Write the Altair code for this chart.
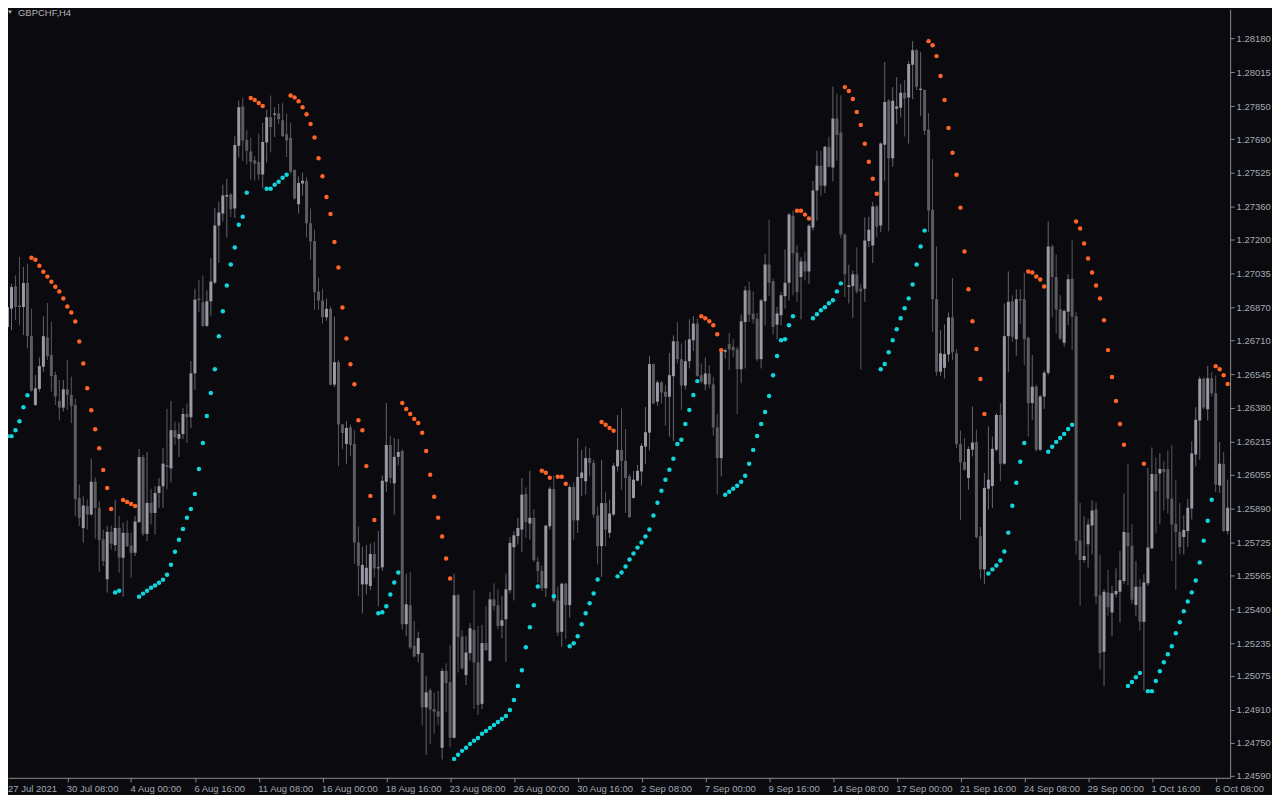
import altair as alt
import pandas as pd

SYMBOL = "GBPCHF,H4"
FIRST_DATE_LABEL = "27 Jul 2021"
TICK_BARS = [16, 32, 48, 64, 80, 96, 112, 128, 144, 160, 176, 192, 208, 224, 240, 256, 272, 288, 304]
TICK_LABELS = ["30 Jul 08:00", "4 Aug 00:00", "6 Aug 16:00", "11 Aug 08:00", "16 Aug 00:00",
               "18 Aug 16:00", "23 Aug 08:00", "26 Aug 00:00", "30 Aug 16:00", "2 Sep 08:00",
               "7 Sep 00:00", "9 Sep 16:00", "14 Sep 08:00", "17 Sep 00:00", "21 Sep 16:00",
               "24 Sep 08:00", "29 Sep 00:00", "1 Oct 16:00", "6 Oct 08:00"]
PRICE_TICKS = [1.24590, 1.24750, 1.24910, 1.25075, 1.25235, 1.25400, 1.25565, 1.25725,
               1.25890, 1.26055, 1.26215, 1.26380, 1.26545, 1.26710, 1.26870, 1.27035,
               1.27200, 1.27360, 1.27525, 1.27690, 1.27850, 1.28015, 1.28180]

# prices in points (1 point = 0.00001)
OPEN = [
    126347, 126775, 126864, 126973, 126880, 126872, 126989, 126730, 126395, 126473,
    126581, 126724, 126638, 126541, 126415, 126382, 126471, 126444, 126395, 125942,
    125795, 125902, 125861, 126021, 125894, 125740, 125546, 125777, 125712, 125796,
    125651, 125772, 125710, 125675, 125824, 126141, 125767, 125918, 125869, 125966,
    125999, 126102, 126086, 126272, 126230, 126253, 126351, 126335, 126549, 126913,
    126895, 126780, 126900, 126991, 127269, 127327, 127410, 127421, 127352, 127658,
    127849, 127686, 127630, 127587, 127578, 127517, 127673, 127796, 127809, 127815,
    127782, 127713, 127695, 127539, 127372, 127474, 127487, 127280, 127194, 126947,
    126904, 126822, 126863, 126494, 126603, 126300, 126205, 126286, 126205, 125725,
    125521, 125521, 125513, 125669, 125599, 125604, 126021, 126200, 126013, 126142,
    126171, 125327, 125419, 125222, 125181, 125186, 124922, 125006, 124914, 124903,
    124725, 125099, 125044, 124774, 125468, 125267, 125079, 125186, 125299, 125141,
    124939, 125235, 125149, 125448, 125419, 125319, 125351, 125492, 125702, 125756,
    125788, 125961, 125817, 125845, 125631, 125586, 125502, 125804, 125985, 125443,
    125290, 125524, 125420, 125995, 125833, 126039, 126023, 126136, 126112, 125856,
    125707, 125917, 125772, 125861, 126096, 126176, 126123, 126047, 125942, 126026,
    126071, 126192, 126260, 126594, 126411, 126505, 126459, 126435, 126535, 126705,
    126618, 126489, 126608, 126710, 126791, 126540, 126495, 126548, 126495, 126286,
    126136, 126654, 126691, 126678, 126666, 126569, 126799, 126953, 126840, 126815,
    126618, 126900, 127079, 126997, 126786, 126832, 126925, 126990, 127317, 127136,
    127018, 127094, 127045, 127259, 127439, 127560, 127463, 127652, 127552, 127790,
    127722, 127225, 126969, 126974, 127031, 126961, 126961, 127193, 127172, 127361,
    127269, 127662, 127876, 127596, 127838, 127843, 127916, 127892, 128052, 128123,
    127929, 127929, 127735, 127346, 126910, 126557, 126576, 126641, 126821, 126646,
    126204, 126117, 126039, 126177, 126214, 125756, 125594, 125987, 126000, 126177,
    126346, 126109, 126730, 126900, 126715, 126910, 126910, 126722, 126404, 126484,
    126177, 126436, 126552, 127167, 127018, 126861, 126698, 126849, 127010, 126827,
    125735, 125640, 125716, 125808, 125886, 125468, 125193, 125481, 125384, 125473,
    125485, 125538, 125773, 125708, 125420, 125509, 125339, 125527, 125697, 126059,
    126061, 126083, 126083, 125938, 125816, 125776, 125752, 125781, 125891, 126153,
    126319, 126522, 126374, 126525, 126452, 126002, 126109, 125781,
]
HIGH = [
    126953, 126929, 126986, 127026, 127115, 127067, 127083, 126864, 126541, 126626,
    126827, 126892, 126800, 126557, 126516, 126516, 126614, 126533, 126427, 126007,
    125950, 125934, 126133, 126042, 125926, 125788, 125805, 125808, 125934, 125853,
    125821, 125832, 125772, 125853, 126180, 126152, 126165, 125987, 125999, 126039,
    126185, 126376, 126415, 126314, 126309, 126379, 126403, 126609, 126961, 127005,
    127026, 126953, 127111, 127355, 127385, 127468, 127496, 127426, 127703, 127878,
    127890, 127733, 127696, 127608, 127716, 127769, 127832, 127902, 127845, 127862,
    127865, 127812, 127769, 127542, 127509, 127526, 127504, 127352, 127249, 127015,
    126961, 126913, 126875, 126825, 126615, 126303, 126316, 126300, 126272, 125803,
    125703, 125712, 125720, 125728, 125781, 126051, 126404, 126245, 126234, 126229,
    126179, 125573, 125582, 125343, 125291, 125190, 125076, 125015, 124995, 125003,
    125112, 125136, 125225, 125573, 125476, 125299, 125270, 125332, 125492, 125319,
    125324, 125416, 125485, 125526, 125497, 125464, 125574, 125751, 125780, 125845,
    126039, 125993, 126074, 125888, 125655, 125613, 125812, 125998, 126050, 125510,
    125530, 125530, 126006, 126018, 126233, 126176, 126193, 126184, 126128, 125901,
    126128, 125969, 125934, 126112, 126346, 126379, 126278, 126058, 126074, 126103,
    126209, 126385, 126633, 126597, 126516, 126511, 126492, 126649, 126734, 126799,
    126694, 126710, 126812, 126828, 126815, 126597, 126626, 126589, 126532, 126351,
    126662, 126670, 126746, 126715, 126678, 126836, 126974, 126997, 126948, 126844,
    126912, 127131, 127298, 127010, 126872, 126945, 127152, 127330, 127341, 127175,
    127115, 127142, 127276, 127487, 127633, 127633, 127657, 127701, 127945, 127911,
    127903, 127230, 127078, 127050, 127162, 126986, 127309, 127312, 127385, 127369,
    127673, 128065, 127884, 127943, 127992, 127960, 127977, 128070, 128167, 128130,
    128113, 127932, 127816, 127592, 127167, 126759, 126787, 126845, 127013, 126667,
    126270, 126233, 126193, 126387, 126274, 125800, 126063, 126290, 126241, 126355,
    126403, 126889, 127045, 126929, 126958, 126958, 127039, 126727, 126638, 126493,
    126444, 126562, 127289, 127177, 127128, 126929, 126860, 127031, 127196, 126849,
    125918, 125853, 125840, 125931, 125921, 125667, 125497, 125591, 125514, 125599,
    125684, 125963, 126109, 125813, 125635, 125546, 125570, 126088, 126188, 126137,
    126161, 126120, 126174, 126201, 126031, 125918, 125857, 125938, 126218, 126384,
    126533, 126530, 126585, 126554, 126538, 126214, 126166, 126031,
]
LOW = [
    126338, 126751, 126759, 126808, 126783, 126735, 126670, 126460, 126390, 126460,
    126557, 126614, 126460, 126395, 126319, 126363, 126371, 126306, 125853, 125805,
    125724, 125788, 125856, 125743, 125581, 125610, 125481, 125691, 125683, 125578,
    125462, 125703, 125554, 125659, 125821, 125756, 125732, 125813, 125764, 125894,
    125894, 125983, 126018, 126201, 126141, 126229, 126209, 126282, 126468, 126848,
    126775, 126775, 126830, 126984, 127087, 127289, 127211, 127310, 127305, 127600,
    127584, 127567, 127492, 127488, 127492, 127451, 127575, 127625, 127700, 127762,
    127700, 127603, 127521, 127395, 127327, 127415, 127211, 127103, 126858, 126858,
    126792, 126805, 126490, 126482, 126098, 126179, 126109, 126146, 125621, 125463,
    125380, 125472, 125493, 125554, 125414, 125587, 125972, 126013, 125861, 126101,
    125300, 125269, 125206, 125165, 125141, 124833, 124691, 124744, 124793, 124837,
    124668, 124898, 124728, 124769, 125092, 125105, 125031, 125149, 124914, 124885,
    124914, 125196, 125145, 125395, 125303, 125259, 125144, 125477, 125443, 125715,
    125678, 125748, 125739, 125629, 125529, 125489, 125460, 125788, 125432, 125270,
    125218, 125254, 125359, 125739, 125772, 125950, 125958, 126047, 125845, 125618,
    125557, 125707, 125748, 125853, 126071, 125982, 125869, 125845, 125938, 126023,
    126003, 126107, 126173, 126398, 126391, 126403, 126294, 126241, 126220, 126597,
    126370, 126470, 126573, 126657, 126532, 126500, 126467, 126476, 126246, 125958,
    126047, 126621, 126565, 126629, 126351, 126500, 126573, 126799, 126791, 126608,
    126573, 126783, 126925, 126738, 126715, 126783, 126864, 126904, 126929, 126896,
    126812, 127001, 126985, 127244, 127293, 127414, 127427, 127552, 127484, 127584,
    127207, 126921, 126889, 126819, 126937, 126568, 126897, 127164, 127086, 127212,
    127236, 127487, 127240, 127555, 127762, 127795, 127702, 127668, 127884, 127929,
    127803, 127710, 127236, 126751, 126537, 126537, 126524, 126605, 126613, 126185,
    125834, 126075, 125982, 126144, 125745, 125546, 125522, 125885, 125893, 126169,
    126023, 126104, 126554, 126703, 126635, 126791, 126589, 126241, 126323, 126169,
    126169, 126376, 126541, 126821, 126743, 126711, 126679, 126784, 126662, 125667,
    125417, 125627, 125603, 125667, 125425, 125106, 125025, 125368, 125268, 125457,
    125336, 125522, 125517, 125425, 125365, 125295, 125004, 125514, 125692, 125769,
    125813, 125881, 125866, 125635, 125494, 125667, 125667, 125703, 125837, 126096,
    126129, 126374, 126319, 126436, 125970, 125967, 125776, 125765,
]
CLOSE = [
    126779, 126872, 126969, 126872, 126872, 126989, 126730, 126465, 126476, 126584,
    126730, 126633, 126536, 126436, 126382, 126471, 126444, 126390, 125937, 125845,
    125905, 125861, 126021, 125894, 125737, 125635, 125777, 125719, 125796, 125651,
    125772, 125707, 125675, 125827, 126141, 125767, 125918, 125869, 125966, 125999,
    126109, 126093, 126272, 126237, 126253, 126351, 126335, 126549, 126908, 126905,
    126780, 126900, 126996, 127269, 127332, 127415, 127418, 127348, 127661, 127845,
    127683, 127633, 127580, 127570, 127517, 127676, 127796, 127749, 127815, 127787,
    127705, 127683, 127531, 127401, 127476, 127487, 127280, 127191, 126944, 126904,
    126822, 126863, 126494, 126603, 126300, 126258, 126283, 126200, 125725, 125612,
    125616, 125602, 125669, 125599, 125604, 126026, 126200, 126040, 126142, 126166,
    125327, 125424, 125214, 125170, 125259, 124922, 124995, 124911, 124901, 124877,
    125099, 125040, 124774, 125468, 125265, 125112, 125189, 125307, 125141, 124934,
    125235, 125201, 125448, 125416, 125319, 125346, 125497, 125723, 125760, 125796,
    125958, 125824, 125845, 125639, 125586, 125502, 125807, 125987, 125440, 125286,
    125524, 125420, 125995, 125833, 126044, 126066, 126136, 126112, 125861, 125707,
    125917, 125788, 125866, 126099, 126176, 126123, 126039, 125848, 126031, 126074,
    126196, 126262, 126594, 126403, 126505, 126455, 126435, 126540, 126705, 126618,
    126489, 126608, 126715, 126791, 126537, 126508, 126548, 126495, 126285, 126136,
    126654, 126662, 126666, 126662, 126569, 126802, 126953, 126835, 126812, 126618,
    126904, 127079, 126990, 126775, 126840, 126929, 126990, 127322, 127134, 126945,
    127094, 127045, 127268, 127439, 127560, 127463, 127652, 127555, 127790, 127710,
    127225, 127031, 126978, 127031, 126948, 126948, 127196, 127248, 127361, 127264,
    127668, 127871, 127596, 127876, 127848, 127916, 127887, 128055, 128123, 127945,
    127935, 127730, 127342, 126910, 126557, 126646, 126643, 126821, 126651, 126204,
    126115, 126079, 126180, 126212, 125751, 125594, 125991, 126031, 126181, 126346,
    126109, 126730, 126897, 126727, 126910, 126905, 126715, 126403, 126484, 126177,
    126436, 126552, 127167, 127018, 126860, 126719, 126852, 127007, 126824, 125732,
    125640, 125659, 125813, 125881, 125462, 125187, 125485, 125409, 125478, 125489,
    125541, 125776, 125708, 125446, 125509, 125339, 125530, 125700, 126059, 125975,
    126083, 126070, 125938, 125813, 125776, 125703, 125786, 125894, 126158, 126323,
    126522, 126383, 126525, 126452, 126007, 126109, 125781, 125894,
]
SAR = [
    126851, 126243, 126243, 126272, 126316, 126384, 126442, 127112, 127102, 127073,
    127044, 127020, 126995, 126971, 126947, 126913, 126874, 126845, 126801, 126704,
    126597, 126476, 126369, 126277, 126184, 126078, 125990, 125888, 125481, 125490,
    125932, 125922, 125913, 125903, 125461, 125476, 125490, 125505, 125515, 125529,
    125544, 125568, 125617, 125680, 125738, 125791, 125845, 125888, 125961, 126083,
    126210, 126341, 126453, 126569, 126730, 126851, 126977, 127079, 127162, 127273,
    127312, 127429, 127890, 127880, 127866, 127851, 127448, 127448, 127468, 127482,
    127502, 127516, 127902, 127893, 127874, 127845, 127811, 127763, 127698, 127597,
    127509, 127408, 127325, 127189, 127064, 126870, 126719, 126593, 126496, 126320,
    126272, 126097, 125952, 125835, 125380, 125385, 125414, 125472, 125530, 125579,
    126404, 126375, 126351, 126327, 126307, 126259, 126171, 126055, 125948, 125846,
    125754, 125647, 125550, 124671, 124691, 124710, 124725, 124744, 124759, 124773,
    124793, 124807, 124822, 124836, 124851, 124865, 124880, 124909, 124958, 125026,
    125103, 125215, 125312, 125419, 125511, 126074, 126065, 126040, 125463, 126045,
    126045, 126011, 125220, 125234, 125268, 125327, 125380, 125429, 125477, 125545,
    126312, 126298, 126283, 126269, 125560, 125579, 125608, 125642, 125671, 125700,
    125725, 125754, 125788, 125856, 125919, 125977, 126031, 126079, 126133, 126205,
    126225, 126302, 126370, 126443, 126511, 126827, 126817, 126803, 126783, 126739,
    126662, 125958, 125972, 125987, 126001, 126021, 126050, 126108, 126176, 126244,
    126302, 126361, 126438, 126540, 126633, 126710, 126715, 126783, 126827, 127341,
    127341, 127322, 127303, 126817, 126837, 126856, 126871, 126890, 126905, 126948,
    126987, 127943, 127924, 127885, 127822, 127759, 127667, 127579, 127497, 127424,
    126569, 126594, 126652, 126710, 126764, 126817, 126866, 126914, 126982, 127079,
    127167, 127244, 128167, 128147, 128094, 127997, 127880, 127744, 127623, 127516,
    127356, 127142, 126958, 126803, 126667, 126521, 126351, 125574, 125594, 125613,
    125637, 125681, 125773, 125904, 126016, 126118, 126210, 127045, 127040, 127021,
    127006, 126972, 126167, 126191, 126215, 126234, 126254, 126278, 126298, 127288,
    127254, 127181, 127108, 127040, 126977, 126914, 126807, 126662, 126531, 126414,
    126302, 126201, 125026, 125045, 125069, 125089, 126108, 125001, 125001, 125050,
    125098, 125142, 125181, 125220, 125283, 125336, 125390, 125438, 125482, 125540,
    125628, 125734, 125831, 125933, 126584, 126569, 126540, 126497,
]
# SAR side per run of bars: "up" = below price (cyan), "down" = above price (orange)
SAR_RUNS = [("down", 1), ("up", 6), ("down", 21), ("up", 2), ("down", 4), ("up", 28),
            ("down", 4), ("up", 6), ("down", 22), ("up", 6), ("down", 13), ("up", 22),
            ("down", 3), ("up", 1), ("down", 3), ("up", 8), ("down", 4), ("up", 21),
            ("down", 6), ("up", 18), ("down", 4), ("up", 8), ("down", 9), ("up", 12),
            ("down", 15), ("up", 10), ("down", 5), ("up", 7), ("down", 13), ("up", 4),
            ("down", 1), ("up", 17), ("down", 4)]

POINT = 1e-5
BG = "#0a0a0f"
FRAME = "#8c8c8c"
TEXT = "#a3a9b3"
BULL = "#9a9aa6"
BEAR = "#5c5c60"
WICK_UP = "#66666e"
WICK_DN = "#58585c"
ORANGE = "#ff6428"
CYAN = "#12d6de"
FONT = "Liberation Sans"
FS = 9.5

trend = [side for side, k in SAR_RUNS for _ in range(k)]
df = pd.DataFrame({
    "bar": list(range(len(CLOSE))),
    "open": [v * POINT for v in OPEN],
    "high": [v * POINT for v in HIGH],
    "low": [v * POINT for v in LOW],
    "close": [v * POINT for v in CLOSE],
    "sar": [v * POINT for v in SAR],
    "trend": trend,
})

x_scale = alt.Scale(domain=[1.125, 307.625], nice=False, zero=False, padding=0)
y_scale = alt.Scale(domain=[1.245788, 1.283223], nice=False, zero=False, padding=0)

label_expr = ("[" + ",".join("'%s'" % s for s in TICK_LABELS) + "][indexof(["
              + ",".join(str(b) for b in TICK_BARS) + "], datum.value)]")

x_axis = alt.Axis(values=TICK_BARS, labelExpr=label_expr, orient="bottom", title=None,
                  grid=False, tickSize=4, labelAlign="left", labelOffset=-1, labelPadding=2,
                  labelOverlap=False, labelFlush=False, domainColor=FRAME, tickColor=FRAME,
                  labelColor=TEXT, labelFont=FONT, labelFontSize=FS)
y_axis = alt.Axis(values=PRICE_TICKS, format=".5f", orient="right", title=None, grid=False,
                  tickSize=4, labelPadding=2, labelOverlap=False, labelFlush=False,
                  domainColor=FRAME, tickColor=FRAME, labelColor=TEXT, labelFont=FONT,
                  labelFontSize=FS)

base = alt.Chart(df)
up_cond = "datum.close >= datum.open"
X = alt.X("bar:Q", scale=x_scale, axis=x_axis)

wicks = base.mark_rule(strokeWidth=1, clip=True).encode(
    x=X,
    y=alt.Y("low:Q", scale=y_scale, axis=y_axis),
    y2="high:Q",
    color=alt.condition(up_cond, alt.value(WICK_UP), alt.value(WICK_DN)),
)
bodies = base.mark_bar(size=3, clip=True).encode(
    x=X,
    y=alt.Y("open:Q", scale=y_scale, axis=y_axis),
    y2="close:Q",
    color=alt.condition(up_cond, alt.value(BULL), alt.value(BEAR)),
)
dots = base.mark_circle(size=20, opacity=1, clip=True).encode(
    x=X,
    y=alt.Y("sar:Q", scale=y_scale, axis=y_axis),
    color=alt.condition("datum.trend == 'up'", alt.value(CYAN), alt.value(ORANGE)),
)

title = alt.Chart(pd.DataFrame({"t": [SYMBOL]})).mark_text(
    align="left", baseline="alphabetic", font=FONT, fontSize=FS, color="#b4b4b4"
).encode(x=alt.value(10), y=alt.value(7), text="t:N")
tri = alt.Chart(pd.DataFrame({"t": [SYMBOL]})).mark_point(
    shape="triangle-down", filled=True, size=16, color="#b4b4b4", opacity=1
).encode(x=alt.value(2), y=alt.value(3))
first_date = alt.Chart(pd.DataFrame({"t": [FIRST_DATE_LABEL]})).mark_text(
    align="left", baseline="top", font=FONT, fontSize=FS, color=TEXT
).encode(x=alt.value(0), y=alt.value(777), text="t:N")

chart = alt.layer(wicks, bodies, dots, title, tri, first_date).properties(
    width=1226, height=771,
    autosize=alt.AutoSizeParams(type="none"),
    padding={"left": 0, "top": 0, "right": 42, "bottom": 16},
).configure(background=BG).configure_view(stroke=None)

chart.save("out.html", embed_options={"renderer": "svg", "actions": False})
